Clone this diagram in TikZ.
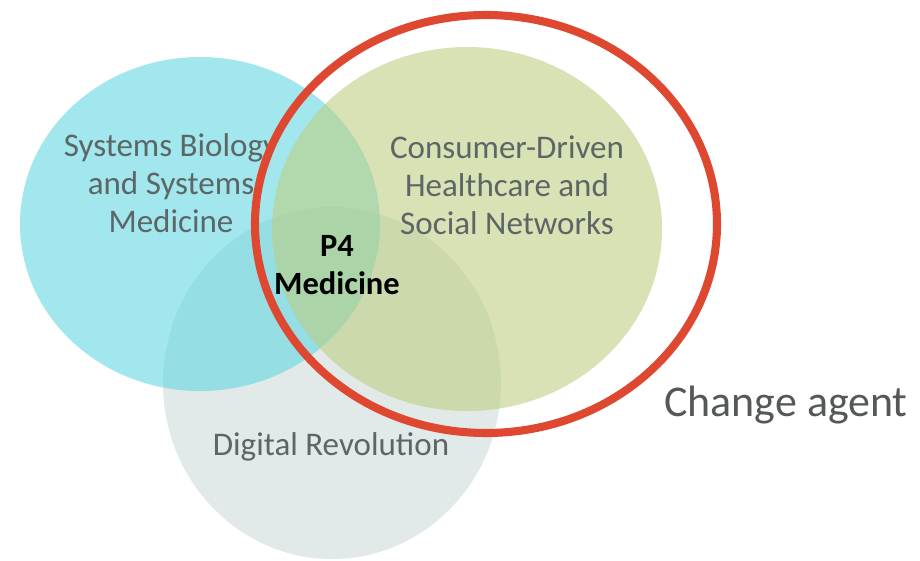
\documentclass[tikz,border=0pt]{standalone}
\usepackage{fontspec}
\setmainfont{Carlito}
\definecolor{cyanbase}{RGB}{95,215,225}
\definecolor{greenbase}{RGB}{190,206,128}
\definecolor{greybase}{RGB}{205,218,218}
\definecolor{ringred}{RGB}{222,72,48}
\definecolor{labelgrey}{RGB}{92,102,102}
\definecolor{agentgrey}{RGB}{85,88,88}
\begin{document}
\begin{tikzpicture}[x=0.02cm,y=-0.02cm,
  setfill/.style={draw=none,fill opacity=0.58},
  lbl/.style={font=\fontsize{18.8}{21.6}\selectfont,text=labelgrey,align=center,inner sep=0pt},
  p4/.style={font=\fontsize{18.5}{21.6}\selectfont\bfseries,text=black,align=center,inner sep=0pt}]
\useasboundingbox (0,0) rectangle (920,561);
\fill[white] (0,0) rectangle (920,561);
% sets
\fill[setfill,fill=greybase] (332,383) ellipse [x radius=169,y radius=176];
\fill[setfill,fill=cyanbase] (200,224) ellipse [x radius=180,y radius=167];
\fill[setfill,fill=greenbase] (467,229) ellipse [x radius=195,y radius=182];
% labels
\begin{scope}[even odd rule]
\clip (0,0) rectangle (920,561) (486,224) ellipse [x radius=227,y radius=205];
\node[lbl] (sysbio) at (171,183) {Systems Biology\\and Systems\\Medicine};
\end{scope}
\node[lbl] (consumer) at (507,185) {Consumer-Driven\\Healthcare and\\Social Networks};
\node[lbl] (digital) at (331,447) {Digital Revolution};
\node[p4] (p4med) at (337,265) {P4\\Medicine};
% change agent ring
\draw[ringred,line width=4.6pt] (486,224) ellipse [x radius=231,y radius=209];
\node[font=\fontsize{25}{29}\selectfont,text=agentgrey,inner sep=0pt] (agent) at (786,405) {Change agent};
\end{tikzpicture}
\end{document}
